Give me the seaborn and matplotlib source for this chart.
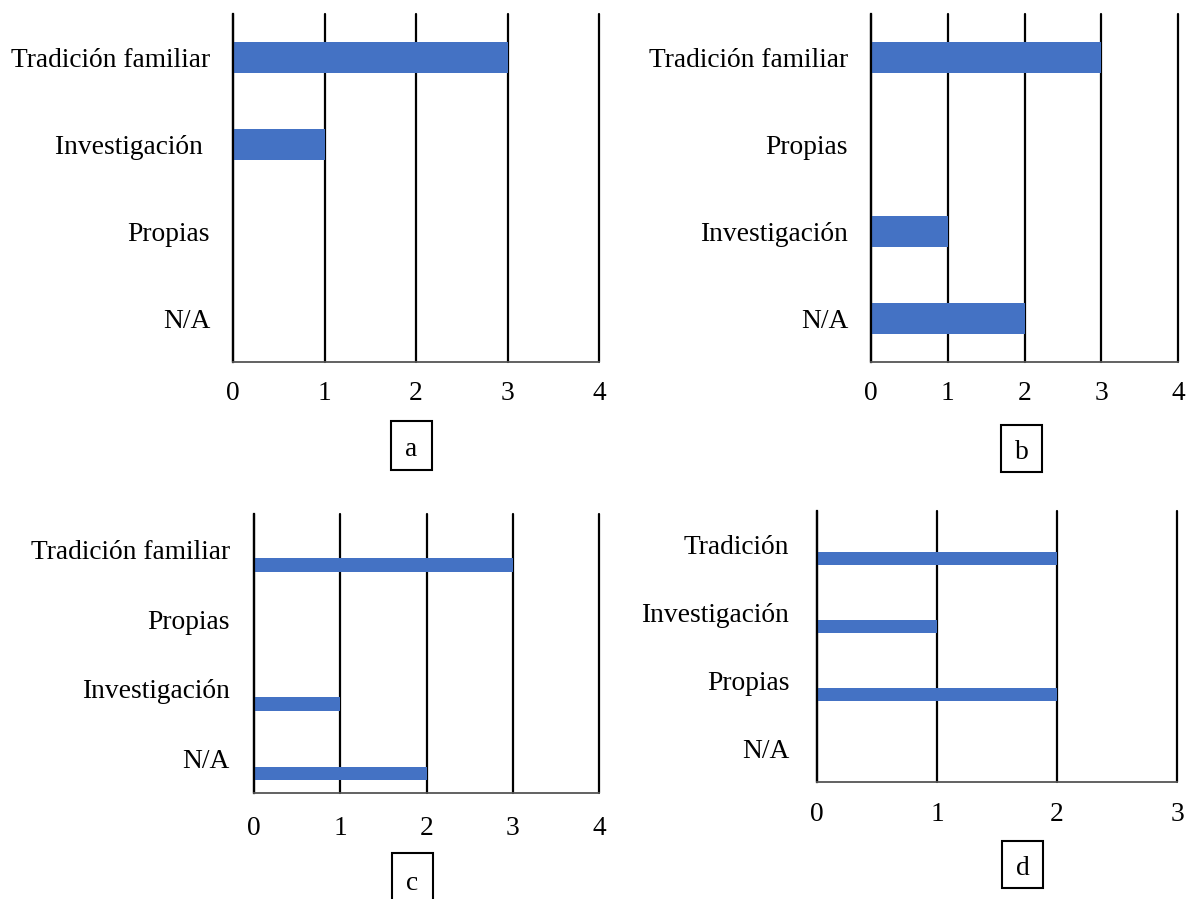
import matplotlib
matplotlib.use("Agg")
import matplotlib.pyplot as plt
import seaborn as sns
import pandas as pd
from matplotlib.patches import Rectangle

# ---- data -------------------------------------------------------------
cats_a = ["Tradición familiar", "Investigación ", "Propias", "N/A"]
vals_a = [3, 1, 0, 0]

cats_b = ["Tradición familiar", "Propias", "Investigación", "N/A"]
vals_b = [3, 0, 1, 2]

cats_c = ["Tradición familiar", "Propias", "Investigación", "N/A"]
vals_c = [3, 0, 1, 2]

cats_d = ["Tradición", "Investigación", "Propias", "N/A"]
vals_d = [2, 1, 2, 0]

xticks_4 = [0, 1, 2, 3, 4]
xticks_3 = [0, 1, 2, 3]
panel_letters = ["a", "b", "c", "d"]

# ---- style ------------------------------------------------------------
sns.set_theme(style="white")
plt.rcParams["font.family"] = ["Liberation Serif", "DejaVu Serif"]
plt.rcParams["text.color"] = "black"
plt.rcParams["xtick.color"] = "black"
plt.rcParams["ytick.color"] = "black"

FS = 19.8
BAR = "#4472C4"
W, H = 1186, 899
fig = plt.figure(figsize=(W / 100, H / 100), dpi=100)


def px_axes(left, top, right, bottom):
    return fig.add_axes([left / W, 1 - bottom / H, (right - left) / W, (bottom - top) / H])


def panel(ax, cats, vals, xticks, bar_h, ylim, label_shift, ypad, xpad):
    df = pd.DataFrame({"categoria": cats, "valor": vals})
    sns.barplot(data=df, x="valor", y="categoria", orient="h", color=BAR,
                saturation=1, width=bar_h, linewidth=0, ax=ax)
    ax.set_xlim(xticks[0], xticks[-1])
    ax.set_ylim(*ylim)
    ax.set_xticks(xticks)
    ax.set_xticklabels([str(t) for t in xticks], fontsize=FS)
    ax.set_yticks([i - label_shift for i in range(len(cats))])
    ax.set_yticklabels(cats, fontsize=FS)
    ax.tick_params(axis="y", length=0, pad=ypad)
    ax.tick_params(axis="x", length=0, pad=xpad)
    ax.set_xlabel("")
    ax.set_ylabel("")
    ax.grid(axis="x", color="black", linewidth=1.6)
    ax.grid(axis="y", visible=False)
    ax.set_axisbelow(True)
    for gl in ax.get_xgridlines():
        gl.set_clip_on(False)
    for s in ("top", "right"):
        ax.spines[s].set_visible(False)
    ax.spines["left"].set_color("black")
    ax.spines["left"].set_linewidth(1.6)
    ax.spines["bottom"].set_color("#555555")
    ax.spines["bottom"].set_linewidth(1.3)


def letter_box(left, top, right, bottom, letter):
    fig.add_artist(Rectangle((left / W, 1 - bottom / H), (right - left) / W, (bottom - top) / H,
                             transform=fig.transFigure, fill=False, edgecolor="black",
                             linewidth=1.5))
    fig.text((left + right) / 2 / W, 1 - ((top + bottom) / 2 + 4) / H, letter,
             ha="center", va="center", fontsize=FS)


ax_a = px_axes(233, 14, 599, 362)
panel(ax_a, cats_a, vals_a, xticks_4, 0.36, (3.5, -0.5), 0.0, 16.5, 13.5)

ax_b = px_axes(871, 14, 1178, 362)
panel(ax_b, cats_b, vals_b, xticks_4, 0.36, (3.5, -0.5), 0.0, 16.5, 13.5)

ax_c = px_axes(254, 514, 599, 793)
panel(ax_c, cats_c, vals_c, xticks_4, 0.20, (3.28, -0.734), 0.223, 17.5, 16.5)

ax_d = px_axes(817, 511, 1177, 782)
panel(ax_d, cats_d, vals_d, xticks_3, 0.20, (3.29, -0.70), 0.20, 20, 14.5)

letter_box(391, 421, 432, 470, panel_letters[0])
letter_box(1001, 425, 1042, 472, panel_letters[1])
letter_box(392, 853, 433, 905, panel_letters[2])
letter_box(1002, 841, 1043, 888, panel_letters[3])

fig.savefig("out.png", dpi=100, facecolor="white")
